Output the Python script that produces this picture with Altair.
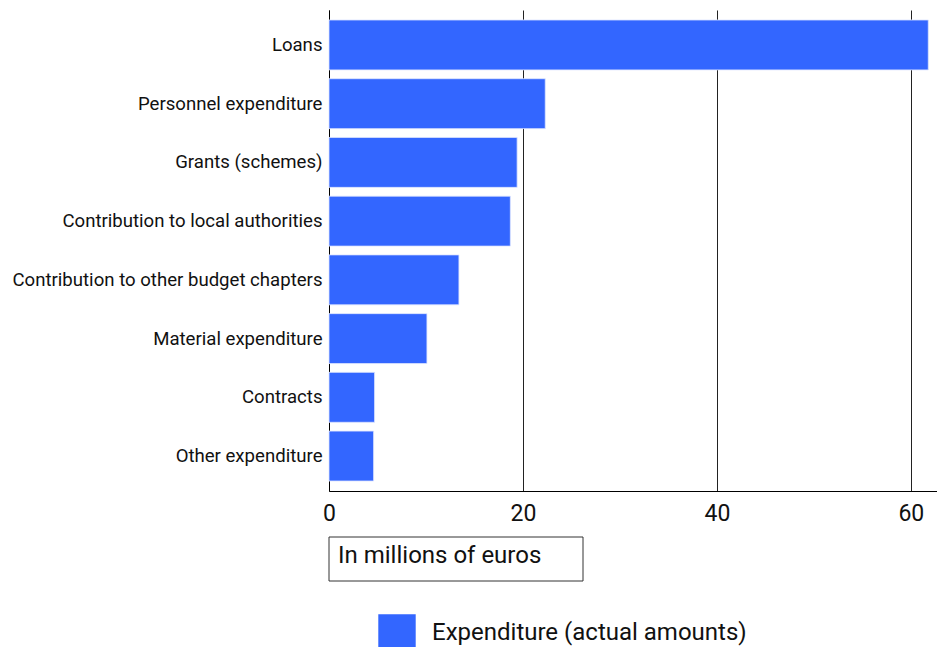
import altair as alt
import pandas as pd

categories = ["Loans", "Personnel expenditure", "Grants (schemes)",
              "Contribution to local authorities", "Contribution to other budget chapters",
              "Material expenditure", "Contracts", "Other expenditure"]
values = [61.8, 22.3, 19.4, 18.7, 13.4, 10.1, 4.7, 4.6]
series_name = "Expenditure (actual amounts)"
x_ticks = [0, 20, 40, 60]
axis_title = "In millions of euros"

df = pd.DataFrame({"category": categories, "value": values, "series": [series_name] * len(categories)})

W, H = 608, 481

bars = alt.Chart(df).mark_bar(stroke="#dde4ff", strokeWidth=0.8).encode(
    y=alt.Y("category:N", sort=categories, title=None,
            scale=alt.Scale(paddingInner=0.15, paddingOuter=0.17),
            axis=alt.Axis(ticks=False, labelPadding=7, labelFontSize=18.6, labelFont="Roboto",
                          labelColor="#111", domainColor="#000", labelLimit=400)),
    x=alt.X("value:Q", title=None,
            scale=alt.Scale(domain=[0, 62.7], nice=False),
            axis=alt.Axis(values=x_ticks, ticks=False, labelFontSize=23, labelFont="Roboto",
                          labelColor="#111", labelPadding=11, domainColor="#000",
                          grid=True, gridColor="#222", gridWidth=1, labelFlush=False)),
    color=alt.Color("series:N", title=None,
                    scale=alt.Scale(range=["#3366ff"]),
                    legend=alt.Legend(orient="none", legendX=49, legendY=604, symbolType="square",
                                      symbolSize=1400, symbolStrokeWidth=0, labelFontSize=24,
                                      labelFont="Roboto", labelColor="#111", labelOffset=16,
                                      labelLimit=600, symbolOpacity=1)),
)

box = alt.Chart(pd.DataFrame({"t": [axis_title]})).mark_rect(
    fill="white", stroke="#333", strokeWidth=1, clip=False
).encode(x=alt.value(0), x2=alt.value(254), y=alt.value(527), y2=alt.value(571))

txt = alt.Chart(pd.DataFrame({"t": [axis_title]})).mark_text(
    align="left", baseline="middle", fontSize=24, font="Roboto", color="#111", clip=False
).encode(x=alt.value(9), y=alt.value(546), text="t:N")

chart = alt.layer(bars, box, txt).properties(
    width=W, height=H, padding={"top": 2, "left": 3, "right": 0, "bottom": 0}
).configure_view(stroke=None)

chart.save("out.html", embed_options={"renderer": "svg", "actions": False})
